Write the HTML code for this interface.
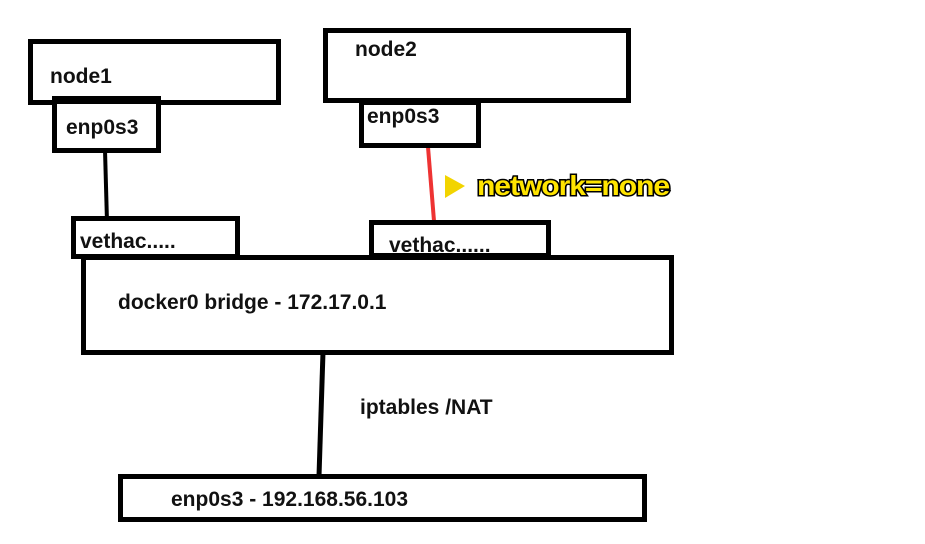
<!DOCTYPE html>
<html><head><meta charset="utf-8"><style>
html,body{margin:0;padding:0;background:#fff;}
body{width:925px;height:544px;position:relative;overflow:hidden;font-family:"Liberation Sans",sans-serif;}
.b{position:absolute;border:5px solid #000;box-sizing:border-box;background:#fff;}
.t{position:absolute;font-weight:bold;font-size:21px;color:#111;white-space:nowrap;line-height:1;}
</style></head><body>
<svg width="925" height="544" style="position:absolute;left:0;top:0">
<line x1="105" y1="150" x2="107" y2="222" stroke="#000" stroke-width="4"/>
<line x1="428" y1="147" x2="434" y2="221" stroke="#e33" stroke-width="4"/>
<line x1="323" y1="352" x2="319" y2="476" stroke="#000" stroke-width="5"/>
</svg>
<div class="b" style="left:28px;top:39px;width:253px;height:66px"></div>
<div class="t" style="left:50px;top:66px">node1</div>
<div class="b" style="left:52px;top:96px;width:109px;height:57px;border-top-width:8px"></div>
<div class="t" style="left:66px;top:117px">enp0s3</div>
<div class="b" style="left:323px;top:28px;width:308px;height:75px"></div>
<div class="t" style="left:355px;top:39px">node2</div>
<div class="b" style="left:359px;top:100px;width:122px;height:48px"></div>
<div class="t" style="left:367px;top:106px">enp0s3</div>
<div class="b" style="left:71px;top:216px;width:169px;height:43px"></div>
<div class="t" style="left:80px;top:231px">vethac.....</div>
<div class="b" style="left:369px;top:220px;width:182px;height:38px"></div>
<div class="t" style="left:389px;top:235px">vethac......</div>
<div class="b" style="left:81px;top:255px;width:593px;height:100px"></div>
<div class="t" style="left:118px;top:292px">docker0 bridge - 172.17.0.1</div>
<div class="t" style="left:360px;top:397px">iptables /NAT</div>
<div class="b" style="left:118px;top:474px;width:529px;height:48px"></div>
<div class="t" style="left:171px;top:489px">enp0s3 - 192.168.56.103</div>
<svg width="925" height="544" style="position:absolute;left:0;top:0">
<polygon points="445,175 465,186 445,198" fill="#f2d400"/>
<text x="477" y="195" font-family="Liberation Sans, sans-serif" font-weight="bold" font-size="28" fill="#ffe400" stroke="#000" stroke-width="3" paint-order="stroke" letter-spacing="-1" textLength="192" lengthAdjust="spacingAndGlyphs">network=none</text>
</svg>
</body></html>
